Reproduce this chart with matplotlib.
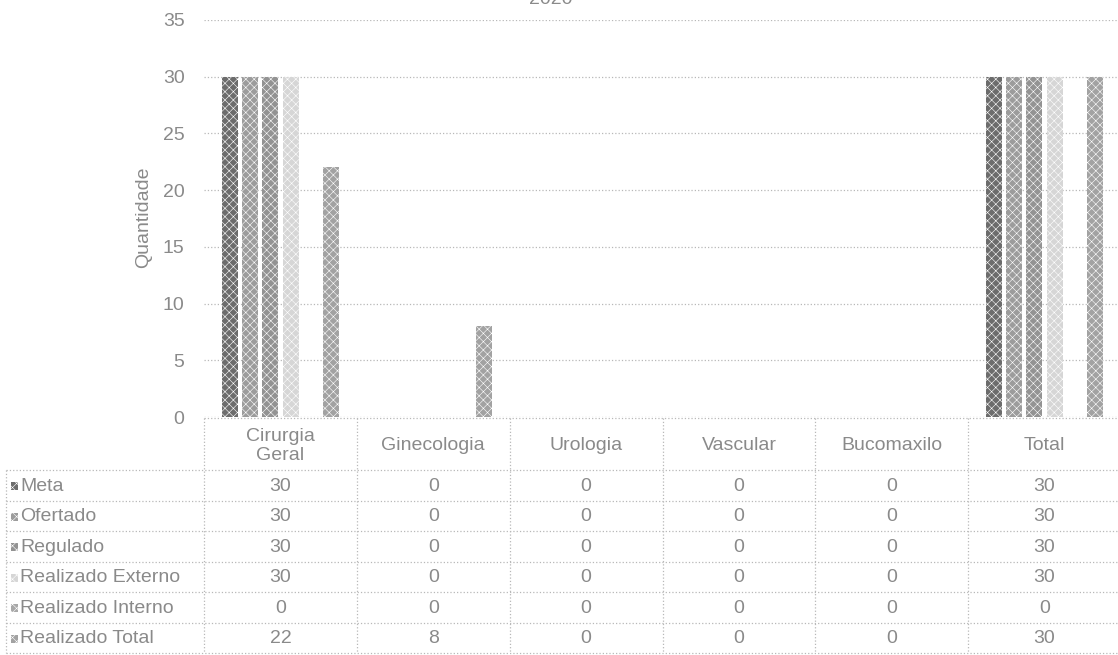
import matplotlib
matplotlib.use("Agg")
import matplotlib.pyplot as plt
from matplotlib.patches import Rectangle
import numpy as np

# dados do grafico
categorias = ["Cirurgia\nGeral", "Ginecologia", "Urologia", "Vascular", "Bucomaxilo", "Total"]
series = ["Meta", "Ofertado", "Regulado", "Realizado Externo", "Realizado Interno", "Realizado Total"]
meta = [30, 0, 0, 0, 0, 30]
ofertado = [30, 0, 0, 0, 0, 30]
regulado = [30, 0, 0, 0, 0, 30]
realizado_externo = [30, 0, 0, 0, 0, 30]
realizado_interno = [0, 0, 0, 0, 0, 0]
realizado_total = [22, 8, 0, 0, 0, 30]
valores = [meta, ofertado, regulado, realizado_externo, realizado_interno, realizado_total]
yticks = [0, 5, 10, 15, 20, 25, 30, 35]

cores = ["#6c6c6c", "#9c9c9c", "#939393", "#d6d6d6", "#a8a8a8", "#a2a2a2"]
cor_texto = "#8a8a8a"
cor_linha = "#b8b8b8"
fs = 14

plt.rcParams["font.family"] = ["Liberation Sans", "DejaVu Sans"]
plt.rcParams["hatch.color"] = "white"
plt.rcParams["hatch.linewidth"] = 0.4

W, H = 1118, 655
fig = plt.figure(figsize=(W / 100, H / 100), dpi=100)

# area do grafico (em pixels)
x0, x1 = 204, 1121
y_top, y_bot = 20, 417
ax = fig.add_axes([x0 / W, 1 - y_bot / H, (x1 - x0) / W, (y_bot - y_top) / H])

x = np.arange(len(categorias))
passo = 0.133
largura = 0.105
for i, (nome, vals) in enumerate(zip(series, valores)):
    ax.bar(x + (i - 2.5) * passo, vals, largura, color=cores[i], hatch="xxxx",
           linewidth=0, zorder=3)

ax.set_xlim(-0.5, len(categorias) - 0.5)
ax.set_ylim(0, 35)
ax.set_yticks(yticks)
ax.set_xticks([])
ax.tick_params(axis="y", length=0, pad=14, labelsize=fs, labelcolor=cor_texto)
for s in ax.spines.values():
    s.set_visible(False)
ax.yaxis.grid(True, linestyle=":", color=cor_linha, linewidth=0.9)
ax.set_axisbelow(True)

fig.text(144 / W, 1 - 217 / H, "Quantidade", rotation=90, ha="center", va="center",
         fontsize=fs, color=cor_texto)

# titulo cortado no topo (so aparece a parte de baixo)
fig.text(551 / W, 1 + 1 / H, "2020", ha="center", va="center", fontsize=fs, color=cor_texto)

# tabela de dados embaixo
tb = fig.add_axes([0, 0, 1, 1])
tb.set_xlim(0, W)
tb.set_ylim(H, 0)
tb.axis("off")
tb.patch.set_alpha(0)

col_w = (x1 - x0) / len(categorias)
col_x = [x0 + k * col_w for k in range(len(categorias) + 1)]
head_top, head_bot = 418, 470
row_h = 30.5
row_y = [head_bot + k * row_h for k in range(len(series) + 1)]
left = 6

lk = dict(color=cor_linha, linestyle=":", linewidth=0.9)
tb.plot([x0, x1], [head_top, head_top], **lk)
for yy in row_y:
    tb.plot([left, x1], [yy, yy], **lk)
for xx in col_x:
    tb.plot([xx, xx], [head_top, row_y[-1]], **lk)
tb.plot([left, left], [head_bot, row_y[-1]], **lk)

for k, cat in enumerate(categorias):
    tb.text((col_x[k] + col_x[k + 1]) / 2, (head_top + head_bot) / 2 + 2, cat,
            ha="center", va="center", fontsize=fs, color=cor_texto, linespacing=1.15)

for i, nome in enumerate(series):
    yc = (row_y[i] + row_y[i + 1]) / 2 + 1
    tb.add_patch(Rectangle((11, yc - 4), 7, 8, facecolor=cores[i], hatch="xxxx",
                           linewidth=0))
    tb.text(20, yc, nome, ha="left", va="center", fontsize=fs, color=cor_texto)
    for k in range(len(categorias)):
        tb.text((col_x[k] + col_x[k + 1]) / 2, yc, str(valores[i][k]),
                ha="center", va="center", fontsize=fs, color=cor_texto)

fig.savefig("out.png", dpi=100)
